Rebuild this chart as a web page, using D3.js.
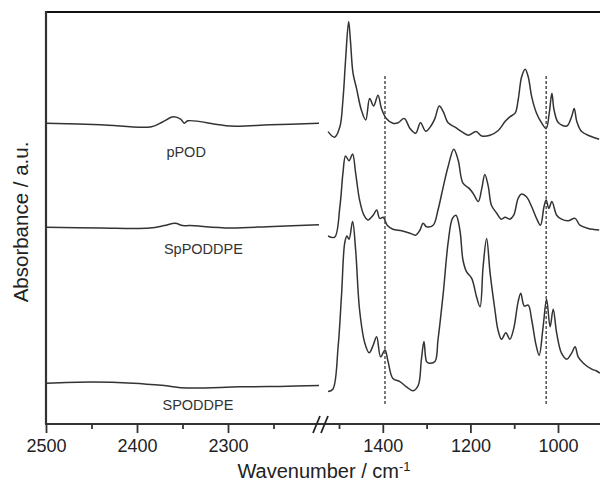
<!DOCTYPE html>
<html>
<head>
<meta charset="utf-8">
<script src="https://cdn.jsdelivr.net/npm/d3@7"></script>
<style>
  body { margin: 0; background: #fff; }
  svg { display: block; font-family: Arial, "Liberation Sans", sans-serif; }
</style>
</head>
<body>
<div id="chart"></div>
<script>
// spectra, [wavenumber, absorbance (stacked, a.u.)]
const pPODLeft = [[2500,75.2],[2440,74.8],[2384,74.3],[2372,75.5],[2360,76.8],[2352,76.2],[2348,75.2],[2344,75.8],[2298,74.5],[2254,74.8],[2200,75.2]];
const spPODDPELeft = [[2500,49.2],[2440,49.0],[2386,49.0],[2370,49.6],[2358,50.2],[2350,49.6],[2342,49.6],[2298,49.0],[2250,49.4],[2200,49.8]];
const sPODDPELeft = [[2500,10.2],[2450,10.5],[2404,10.2],[2370,9.6],[2345,9.0],[2287,9.3],[2243,9.4],[2200,9.6]];

const pPODRight = [[1525,73.1],[1510,71.7],[1498,74.3],[1491,81],[1485,91],[1478,100.6],[1474,96],[1468,87.7],[1460,83.9],[1449,78.5],
  [1439,76],[1430,81.4],[1421,79.5],[1411,82.2],[1403,78.9],[1392,76.4],[1377,75.2],[1365,75.3],[1351,76.4],[1338,73.9],
  [1325,72.7],[1314,75.3],[1302,73.2],[1289,74.7],[1281,76.4],[1271,79.5],[1262,78.1],[1251,75.3],[1235,74.2],[1220,73.1],
  [1205,72.2],[1187,73.1],[1174,72],[1155,72.2],[1137,73.3],[1121,75.6],[1110,76.8],[1098,77.7],[1091,81],[1083,86.8],
  [1075,88.7],[1068,86.8],[1060,81.8],[1049,77.7],[1037,75.2],[1027,73.9],[1020,77.7],[1014,82.7],[1009,78.5],[999,75.3],
  [980,74.5],[969,76.8],[963,78.9],[957,75.6],[946,73.1],[927,72],[906,71.2]];

const spPODDPERight = [[1525,47],[1510,46.7],[1498,54.3],[1491,62.7],[1485,67],[1477,65.8],[1469,67.5],[1462,62.7],[1453,56],[1443,52.2],
  [1434,51],[1422,52.2],[1414,53.5],[1407,51.4],[1399,51.7],[1390,49.7],[1377,48.7],[1357,48.3],[1338,47.7],[1325,47.2],
  [1315,48.5],[1308,50.2],[1300,49.3],[1285,49.7],[1274,53.5],[1262,59.3],[1251,64.3],[1238,68.7],[1228,66],[1217,60.2],
  [1203,58.9],[1194,57.7],[1182,55.6],[1174,58.9],[1167,62.4],[1159,59.3],[1152,54.7],[1140,52.7],[1129,51.2],[1121,51.7],
  [1110,51.2],[1101,52.2],[1091,56.4],[1083,57.5],[1072,56.8],[1060,54.3],[1049,51.4],[1040,49.7],[1032,54.3],[1027,56],
  [1021,53.9],[1014,55.6],[1003,52.2],[992,51.2],[977,50.8],[961,51.4],[950,49.7],[931,48.9],[906,48.5]];

const sPODDPERight = [[1525,8.1],[1514,8.7],[1502,19.3],[1494,32.7],[1487,45.2],[1482,47],[1477,46.2],[1469,50.6],[1462,43.5],[1453,28.5],
  [1441,20.2],[1431,17.8],[1422,19.7],[1414,21.8],[1405,16.8],[1395,18.5],[1388,15.6],[1377,11.4],[1361,10.6],[1346,9.3],
  [1331,8.3],[1319,9.7],[1312,16],[1306,20.6],[1300,15.6],[1294,15.2],[1281,15.6],[1274,21],[1262,32.7],[1251,45.2],
  [1241,51.4],[1233,52.2],[1224,48.5],[1217,41],[1209,38.1],[1197,36.4],[1186,31.8],[1178,29.3],[1171,39.3],[1163,46.4],
  [1155,37.7],[1144,28.5],[1137,23.5],[1129,21.2],[1119,22.8],[1110,21.2],[1101,23.9],[1091,30.6],[1085,32.7],[1077,29.5],
  [1068,29.7],[1060,26],[1050,19.7],[1043,17.2],[1034,24.3],[1026,31.2],[1018,24.3],[1011,28.7],[1003,22.7],[992,17.7],
  [980,16.2],[969,17.7],[961,19.3],[954,16.8],[942,15.2],[923,13.7],[913,13.3],[904,12.7]];

const sampleNames = ["pPOD", "SpPODDPE", "SPODDPE"];
const labelPos = [[2346,66.8], [2327,42.6], [2333,3.4]];   // label anchor [wavenumber, a.u.]

const dashWn = [1395, 1027];
const dashRange = [5, 87];

const leftMajor = [2500, 2400, 2300];
const leftMinor = [2450, 2350, 2250];
const rightMajor = [1400, 1200, 1000];
const rightMinor = [1500, 1300, 1100];

const w = 600;
const h = 483;
const plotLeft = 46, plotTop = 12, plotBottom = 424;

const xLeft = d3.scaleLinear().domain([2500, 2200]).range([46, 319]);
const xRight = d3.scaleLinear().domain([1500, 1000]).range([339, 558]);
const y = d3.scaleLinear().domain([0, 103]).range([plotBottom, plotTop]);

const svg = d3.select("#chart").append("svg")
    .attr("width", w)
    .attr("height", h);

const lineL = d3.line().x(d => xLeft(d[0])).y(d => y(d[1])).curve(d3.curveCatmullRom.alpha(0.5));
const lineR = d3.line().x(d => xRight(d[0])).y(d => y(d[1])).curve(d3.curveCatmullRom.alpha(0.5));

// spectra
[pPODLeft, spPODDPELeft, sPODDPELeft].forEach(s => {
  svg.append("path").datum(s).attr("d", lineL)
    .attr("fill", "none").attr("stroke", "#333").attr("stroke-width", 1.5);
});
[pPODRight, spPODDPERight, sPODDPERight].forEach(s => {
  svg.append("path").datum(s).attr("d", lineR)
    .attr("fill", "none").attr("stroke", "#333").attr("stroke-width", 1.5)
    .attr("stroke-linejoin", "round");
});

// dashed guides
svg.selectAll(".guide").data(dashWn).enter().append("line")
  .attr("class", "guide")
  .attr("x1", d => xRight(d)).attr("x2", d => xRight(d))
  .attr("y1", y(dashRange[1])).attr("y2", y(dashRange[0]))
  .attr("stroke", "#444").attr("stroke-width", 1.4)
  .attr("stroke-dasharray", "3,2");

// sample labels
svg.selectAll(".lab").data(sampleNames).enter().append("text")
  .attr("class", "lab")
  .attr("x", (d, i) => xLeft(labelPos[i][0]))
  .attr("y", (d, i) => y(labelPos[i][1]))
  .attr("text-anchor", "middle")
  .attr("font-size", "14.5px")
  .attr("fill", "#333")
  .text(d => d);

// frame
svg.append("line").attr("x1", plotLeft).attr("x2", w).attr("y1", plotTop).attr("y2", plotTop)
  .attr("stroke", "#111").attr("stroke-width", 2.2);
svg.append("line").attr("x1", plotLeft).attr("x2", plotLeft).attr("y1", plotTop - 1).attr("y2", plotBottom)
  .attr("stroke", "#333").attr("stroke-width", 2.2);
svg.append("line").attr("x1", plotLeft - 1).attr("x2", w).attr("y1", plotBottom).attr("y2", plotBottom)
  .attr("stroke", "#333").attr("stroke-width", 2);

// axes
function drawAxis(scale, major, minor) {
  const gMaj = svg.append("g").attr("transform", `translate(0,${plotBottom})`)
    .call(d3.axisBottom(scale).tickValues(major).tickSize(9).tickPadding(6).tickFormat(d3.format("d")));
  const gMin = svg.append("g").attr("transform", `translate(0,${plotBottom})`)
    .call(d3.axisBottom(scale).tickValues(minor).tickSize(5).tickFormat(""));
  [gMaj, gMin].forEach(g => {
    g.select(".domain").remove();
    g.selectAll("line").attr("stroke", "#333").attr("stroke-width", 1.8);
  });
  gMaj.selectAll("text").attr("font-size", "18px").attr("fill", "#222")
    .attr("font-family", "Arial, 'Liberation Sans', sans-serif");
}
drawAxis(xLeft, leftMajor, leftMinor);
drawAxis(xRight, rightMajor, rightMinor);

// axis break
const brk = svg.append("g");
[0, 8].forEach(dx => {
  brk.append("line")
    .attr("x1", 313 + dx).attr("y1", plotBottom + 9)
    .attr("x2", 320 + dx).attr("y2", plotBottom - 8)
    .attr("stroke", "#222").attr("stroke-width", 1.8);
});

// axis titles
const xt = svg.append("text")
  .attr("x", 324).attr("y", 478)
  .attr("text-anchor", "middle")
  .attr("font-size", "20px")
  .attr("fill", "#222");
xt.append("tspan").text("Wavenumber / cm");
xt.append("tspan").attr("dy", -7).attr("font-size", "13px").text("-1");

svg.append("text")
  .attr("transform", "translate(28,222) rotate(-90)")
  .attr("text-anchor", "middle")
  .attr("font-size", "20.5px")
  .attr("fill", "#222")
  .text("Absorbance / a.u.");
</script>
</body>
</html>
